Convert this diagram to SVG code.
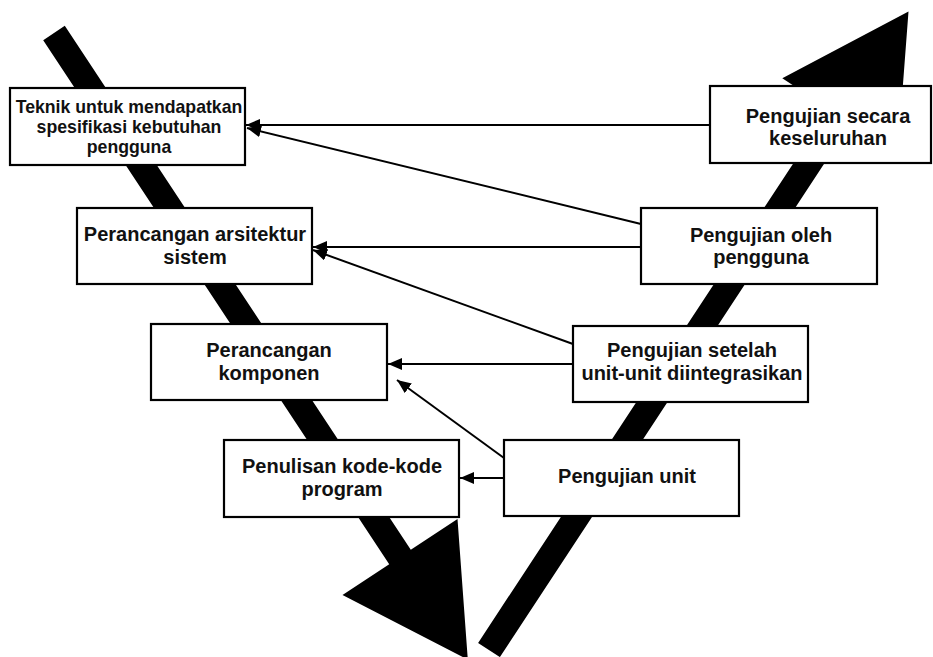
<svg xmlns="http://www.w3.org/2000/svg" width="933" height="657" viewBox="0 0 933 657">
  <style>
    .box rect { fill: #ffffff; stroke: #000000; stroke-width: 2.2; }
    .box text { font-family: "Liberation Sans", Arial, sans-serif; font-weight: bold; font-size: 20px; fill: #111111; text-anchor: middle; }
    .box text.small { font-size: 17.7px; }
    .flow { fill: #000000; stroke: none; }
    .link { stroke: #000000; stroke-width: 2; fill: none; marker-end: url(#head); }
  </style>
  <defs>
    <marker id="head" viewBox="0 0 14 12" refX="14" refY="6" markerWidth="14" markerHeight="12" markerUnits="userSpaceOnUse" orient="auto">
      <path d="M0,0 L14,6 L0,12 z" fill="#000000"/>
    </marker>
  </defs>

  <!-- V-model backbone: descending and ascending thick arrows -->
  <g id="flow-down">
    <polygon class="flow" points="64.8,25.8 410.8,549.8 457.5,519 467.8,659.6 342.5,595 389.2,564.2 43.2,40.2"/>
  </g>
  <g id="flow-up">
    <polygon class="flow" points="478.1,642.9 829.1,108.9 782.3,78.2 908.5,11.5 897.7,153.8 850.9,123.1 499.9,657.1"/>
  </g>

  <!-- Left side: specification and design stages -->
  <g id="spesifikasi" class="box">
    <rect x="10" y="88" width="235" height="77"/>
    <text class="small" x="129" y="113">Teknik untuk mendapatkan</text>
    <text class="small" x="129" y="133">spesifikasi kebutuhan</text>
    <text class="small" x="129" y="153">pengguna</text>
  </g>
  <g id="arsitektur" class="box">
    <rect x="77" y="208" width="235" height="76"/>
    <text x="195" y="241">Perancangan arsitektur</text>
    <text x="195" y="264">sistem</text>
  </g>
  <g id="komponen" class="box">
    <rect x="151" y="324" width="236" height="76"/>
    <text x="269" y="357">Perancangan</text>
    <text x="269" y="380">komponen</text>
  </g>
  <g id="kode" class="box">
    <rect x="224" y="440" width="235" height="77"/>
    <text x="342" y="473">Penulisan kode-kode</text>
    <text x="342" y="496">program</text>
  </g>

  <!-- Right side: testing stages -->
  <g id="uji-unit" class="box">
    <rect x="504" y="440" width="235" height="76"/>
    <text x="627" y="483">Pengujian unit</text>
  </g>
  <g id="uji-integrasi" class="box">
    <rect x="573" y="326" width="235" height="76"/>
    <text x="692" y="357">Pengujian setelah</text>
    <text x="692" y="380">unit-unit diintegrasikan</text>
  </g>
  <g id="uji-pengguna" class="box">
    <rect x="641" y="208" width="236" height="76"/>
    <text x="761" y="242">Pengujian oleh</text>
    <text x="761" y="264">pengguna</text>
  </g>
  <g id="uji-keseluruhan" class="box">
    <rect x="710" y="86" width="221" height="77"/>
    <text x="828" y="123">Pengujian secara</text>
    <text x="828" y="145">keseluruhan</text>
  </g>

  <!-- Traceability links from tests back to design stages -->
  <g id="connectors">
    <line class="link" x1="710" y1="125" x2="246" y2="125"/>
    <line class="link" x1="641" y1="224" x2="247" y2="128"/>
    <line class="link" x1="641" y1="247" x2="313" y2="247"/>
    <line class="link" x1="573" y1="344" x2="313" y2="250"/>
    <line class="link" x1="573" y1="364" x2="388" y2="364"/>
    <line class="link" x1="504" y1="458" x2="397" y2="380"/>
    <line class="link" x1="504" y1="478" x2="460" y2="478"/>
  </g>
</svg>
